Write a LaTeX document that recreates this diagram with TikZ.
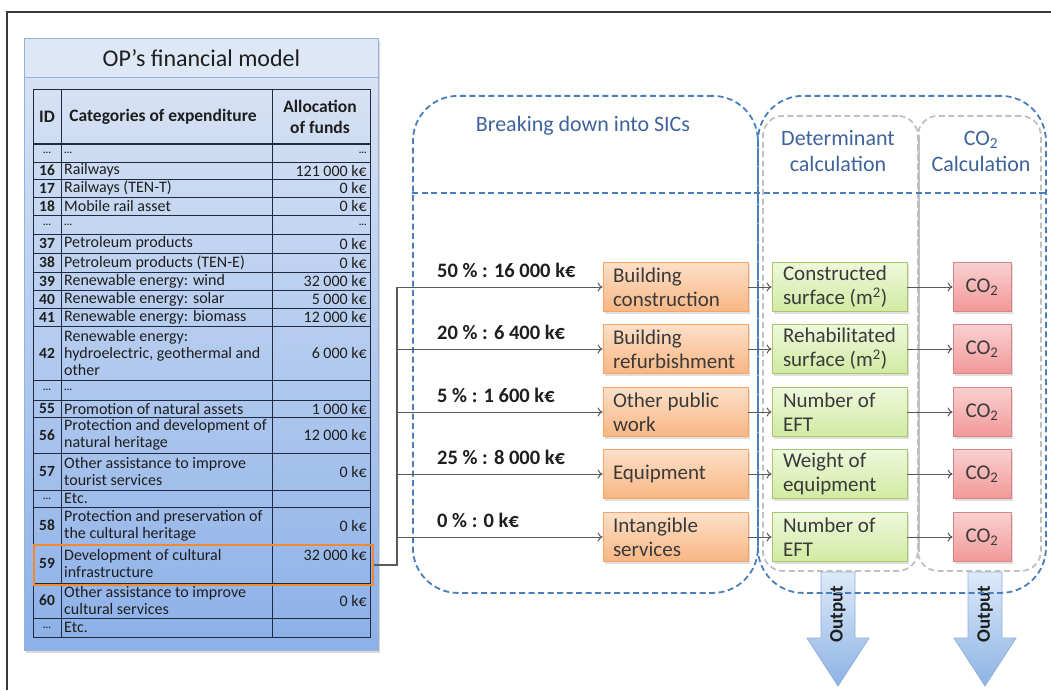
\documentclass[tikz,border=0pt]{standalone}
\usepackage{fontspec}
\setmainfont{Carlito}
\usetikzlibrary{shadows,arrows.meta}
\definecolor{frame}{HTML}{3A3A3A}
\definecolor{panelborder}{HTML}{95B3D7}
\definecolor{paneltop}{HTML}{DCE6F5}
\definecolor{panelbot}{HTML}{8CB0E8}
\definecolor{titlefill}{HTML}{DDE7F5}
\definecolor{grid}{HTML}{1F2A40}
\definecolor{txt}{HTML}{1E1E1E}
\definecolor{hlorange}{HTML}{F08A32}
\definecolor{bluedash}{HTML}{4A7EBB}
\definecolor{graydash}{HTML}{C0C0C0}
\definecolor{bluetext}{HTML}{3E639A}
\definecolor{boxtext}{HTML}{3A3A3A}
\definecolor{orline}{HTML}{F5A46A}
\definecolor{ortop}{HTML}{FDE0C8}
\definecolor{orbot}{HTML}{F8B683}
\definecolor{grline}{HTML}{A7C76C}
\definecolor{grtop}{HTML}{EEF8DC}
\definecolor{grbot}{HTML}{D2EAA2}
\definecolor{rdline}{HTML}{D88484}
\definecolor{rdtop}{HTML}{FAD0D0}
\definecolor{rdbot}{HTML}{F29898}
\definecolor{arrline}{HTML}{5A5A5A}
\definecolor{outtop}{HTML}{DDEAF9}
\definecolor{outbot}{HTML}{8DB3E4}
\definecolor{outline}{HTML}{8FAFDA}
\newcommand\dd{{\fontsize{10}{10}\selectfont\bfseries ...}}
\newcommand\trow[6]{%
  \draw[gridline] (33,#1) rectangle (370,#2);
  \node[idcell] (#6-id) at (47,{(#1+#2)/2}) {#3};
  \node[catcell] (#6-cat) at (64,{(#1+#2)/2}) {#4};
  \node[alcell] (#6-al) at (367,{(#1+#2)/2}) {#5};
}
\begin{document}
\begin{tikzpicture}[x=1pt,y=-1pt,
  gridline/.style={draw=grid, line width=0.9pt},
  idcell/.style={inner sep=0pt, text=txt, font=\fontsize{15.5}{17}\selectfont\bfseries},
  catcell/.style={inner sep=0pt, anchor=west, align=flush left, text=txt, font=\fontsize{16}{17.2}\selectfont},
  alcell/.style={inner sep=0pt, anchor=east, align=flush right, text=txt, font=\fontsize{16}{17.2}\selectfont},
  hdr/.style={inner sep=0pt, align=center, text=txt, font=\fontsize{17.5}{21}\selectfont\bfseries},
  sicbox/.style={draw=orline, line width=0.8pt, top color=ortop, bottom color=orbot,
    minimum width=145pt, minimum height=49pt, text width=125pt, align=flush left, inner sep=0pt,
    text=boxtext, font=\fontsize{21}{24}\selectfont,
    drop shadow={opacity=0.25, shadow xshift=1.5pt, shadow yshift=-2pt}},
  detbox/.style={sicbox, draw=grline, top color=grtop, bottom color=grbot,
    minimum width=135pt, text width=113pt},
  co2box/.style={sicbox, draw=rdline, top color=rdtop, bottom color=rdbot,
    minimum width=58pt, text width=50pt, align=center},
  pct/.style={inner sep=0pt, anchor=west, text=txt, font=\fontsize{20.5}{22}\selectfont\bfseries},
  flow/.style={draw=arrline, line width=1pt, -{To[length=5pt,width=9pt]}},
  bluebox/.style={draw=bluedash, line width=1.8pt, dash pattern=on 6pt off 3.5pt, rounded corners=45pt},
  graybox/.style={draw=graydash, line width=1.8pt, dash pattern=on 6pt off 3.5pt, rounded corners=20pt},
  headtxt/.style={align=center, text=bluetext, font=\fontsize{22}{26}\selectfont},
  outarrow/.style={draw=outline, line width=0.8pt, top color=outtop, bottom color=outbot}
]
\useasboundingbox (0,0) rectangle (1051,690);
% outer frame
\draw[frame, line width=1.4pt] (7,690) -- (7,12) -- (1051,12);

% ---------- left panel ----------
\node[name=panel, anchor=north west, inner sep=0pt, minimum width=354pt, minimum height=612pt,
  draw=panelborder, line width=0.8pt, top color=paneltop, bottom color=panelbot,
  drop shadow={opacity=0.3, shadow xshift=2pt, shadow yshift=-2.5pt}] at (24,38) {};
\node[name=ptitle, anchor=north west, inner sep=0pt, minimum width=354pt, minimum height=39pt,
  draw=panelborder, line width=0.8pt, fill=titlefill, text=txt, font=\fontsize{24}{28}\selectfont] at (24,38) {OP’s financial model};

% header
\draw[gridline] (33,89) rectangle (370,144);
\draw[draw=grid, line width=2pt] (33,144) -- (370,144);
\node[hdr] (h-id) at (47,116.5) {ID};
\node[hdr] (h-cat) at (163,116.5) {Categories of expenditure};
\node[hdr] (h-al) at (320,116.5) {Allocation\\of funds};

\trow{144}{162}{\dd}{\dd}{\dd}{r0}
\trow{162}{179}{16}{Railways}{121 000 k€}{r16}
\trow{179}{197}{17}{Railways (TEN-T)}{0 k€}{r17}
\trow{197}{215}{18}{Mobile rail asset}{0 k€}{r18}
\trow{215}{234}{\dd}{\dd}{\dd}{r1}
\trow{234}{253}{37}{Petroleum products}{0 k€}{r37}
\trow{253}{272}{38}{Petroleum products (TEN-E)}{0 k€}{r38}
\trow{272}{290}{39}{Renewable energy: wind}{32 000 k€}{r39}
\trow{290}{308}{40}{Renewable energy: solar}{5 000 k€}{r40}
\trow{308}{326}{41}{Renewable energy: biomass}{12 000 k€}{r41}
\trow{326}{380}{42}{Renewable energy:\\hydroelectric, geothermal and\\other}{6 000 k€}{r42}
\trow{380}{400}{\dd}{\dd}{}{r2}
\trow{400}{417}{55}{Promotion of natural assets}{1 000 k€}{r55}
\trow{417}{453}{56}{Protection and development of\\natural heritage}{12 000 k€}{r56}
\trow{453}{490}{57}{Other assistance to improve\\tourist services}{0 k€}{r57}
\trow{490}{507}{\dd}{Etc.}{}{r3}
\trow{507}{544}{58}{Protection and preservation of\\the cultural heritage}{0 k€}{r58}
\trow{544}{583}{59}{Development of cultural\\infrastructure}{}{r59}
\node[alcell] (r59-al) at (367,555) {32 000 k€};
\trow{583}{618}{60}{Other assistance to improve\\cultural services}{0 k€}{r60}
\trow{618}{637}{\dd}{Etc.}{}{r4}
\draw[gridline] (61,89) -- (61,637) (272,89) -- (272,637);
% highlight
\node[name=hl, anchor=north west, inner sep=0pt, minimum width=339pt, minimum height=40pt,
  draw=hlorange, line width=2pt] at (33,544) {};

% ---------- output arrows (behind boxes) ----------
\foreach \c/\nm in {838/outA, 985/outB}{
  \path[outarrow] (\c-17,572) -- (\c+17,572) -- (\c+17,638) -- (\c+31,638) -- (\c,686)
     -- (\c-31,638) -- (\c-17,638) -- cycle;
  \node[name=\nm, rotate=90, inner sep=0pt, text=txt, font=\fontsize{19}{22}\selectfont\bfseries] at (\c,614) {Output};
}

% ---------- dashed groups ----------
\node[name=grpA, anchor=north west, inner sep=0pt, minimum width=345pt, minimum height=497pt, bluebox] at (412,95) {};
\node[name=grpB, anchor=north west, inner sep=0pt, minimum width=288pt, minimum height=497pt, bluebox] at (757,95) {};
\node[name=grpC, anchor=north west, inner sep=0pt, minimum width=155pt, minimum height=455pt, graybox] at (762,115) {};
\node[name=grpD, anchor=north west, inner sep=0pt, minimum width=123pt, minimum height=455pt, graybox] at (917,115) {};
\draw[graydash, line width=1.8pt] ([yshift=-20pt]grpC.north east) -- ([yshift=20pt]grpC.south east);
\draw[bluedash, line width=1.8pt, dash pattern=on 6pt off 3.5pt] (grpA.west |- 0,193) -- (grpB.east |- 0,193);

\node[headtxt] (hA) at (583,126) {Breaking down into SICs};
\node[headtxt] (hC) at (838,151) {Determinant\\calculation};
\node[headtxt] (hD) at (981,151) {CO\textsubscript{2}\\Calculation};

% ---------- rows of boxes ----------
\foreach \y/\k/\p/\s/\d in {
  287/1/{50 \% : 16 000 k€}/{Building\\construction}/{Constructed\\surface (m\textsuperscript{2})},
  349/2/{20 \% : 6 400 k€}/{Building\\refurbishment}/{Rehabilitated\\surface (m\textsuperscript{2})},
  412/3/{5 \% : 1 600 k€}/{Other public\\work}/{Number of\\EFT},
  474/4/{25 \% : 8 000 k€}/{Equipment}/{Weight of\\equipment},
  537/5/{0 \% : 0 k€}/{Intangible\\services}/{Number of\\EFT}}{
  \node[sicbox] (s\k) at (675.5,\y) {\s};
  \node[detbox] (d\k) at (839.5,\y) {\d};
  \node[co2box] (c\k) at (982,\y) {CO\textsubscript{2}};
  \node[pct] (p\k) at (437,\y-17) {\p};
  \draw[flow] (s\k) -- (d\k);
  \draw[flow] (d\k) -- (c\k);
}
% trunk connector
\coordinate (trunk) at (397,0 |- hl.east);
\draw[draw=arrline, line width=1.2pt] (hl.east) -- (trunk) -- (trunk |- s1.west);
\foreach \k in {1,...,5}{
  \draw[flow] (trunk |- s\k.west) -- (s\k.west);
}
\end{tikzpicture}
\end{document}
